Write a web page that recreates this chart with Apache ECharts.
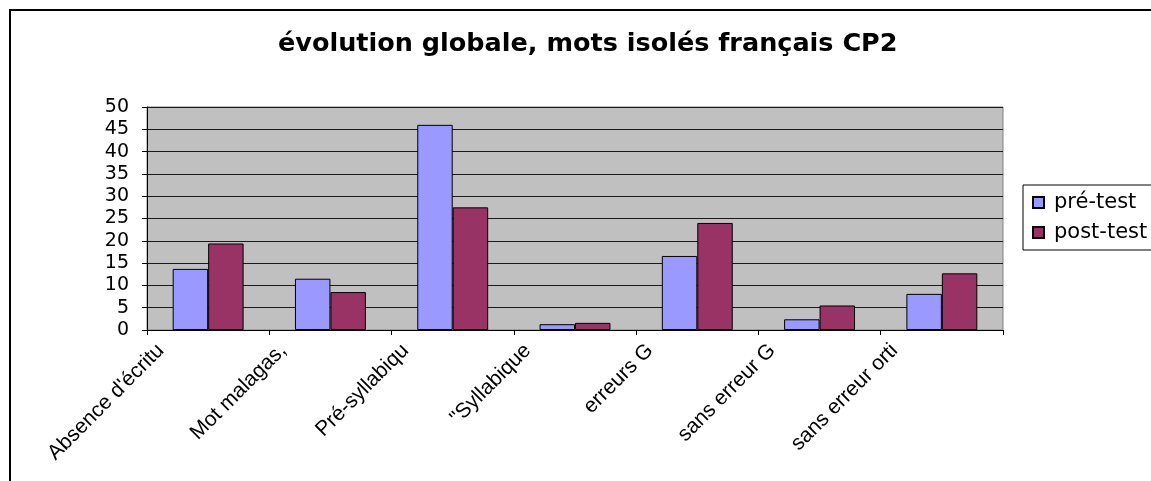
<!DOCTYPE html>
<html>
<head>
<meta charset="utf-8">
<script src="https://cdn.jsdelivr.net/npm/echarts@6/dist/echarts.min.js"></script>
<style>
html,body{margin:0;padding:0;background:#fff;}
#chart{width:1151px;height:481px;}
</style>
</head>
<body>
<div id="chart"></div>
<script>
const titleText = "évolution globale, mots isolés français CP2";
const categories = ["Absence d'écritu", "Mot malagas,", "Pré-syllabiqu", "\"Syllabique", "erreurs G", "sans erreur G", "sans erreur orti"];
const seriesNames = ["pré-test", "post-test"];
const preTest = [13.7, 11.5, 46.0, 1.3, 16.6, 2.4, 8.1];
const postTest = [19.4, 8.5, 27.5, 1.6, 24.0, 5.5, 12.7];
const yTicks = { min: 0, max: 50, interval: 5 };

const chart = echarts.init(document.getElementById('chart'), null, {renderer: 'canvas'});
const option = {
  backgroundColor: '#ffffff',
  animation: false,
  title: {
    text: titleText,
    left: 278,
    top: 31,
    padding: 0,
    textStyle: { fontFamily: 'DejaVu Sans', fontWeight: 'bold', fontSize: 25.5, color: '#000' }
  },
  graphic: [{
    type: 'rect',
    shape: { x: 10, y: 10, width: 1170, height: 520 },
    style: { fill: 'none', stroke: '#000', lineWidth: 2 },
    silent: true
  }],
  legend: {
    orient: 'vertical',
    left: 1023,
    top: 185,
    data: seriesNames,
    icon: 'rect',
    itemWidth: 11,
    itemHeight: 11,
    itemGap: 9,
    padding: [7, 10, 7, 9],
    borderColor: '#000',
    borderWidth: 1,
    textStyle: { fontFamily: 'DejaVu Sans', fontSize: 21, color: '#000', padding: [0, 0, 0, 5] }
  },
  grid: {
    left: 147, right: 148, top: 107, bottom: 151,
    show: true,
    backgroundColor: '#c0c0c0',
    borderColor: '#808080',
    borderWidth: 1,
    containLabel: false
  },
  xAxis: {
    type: 'category',
    data: categories,
    axisLine: { lineStyle: { color: '#000', width: 1 } },
    axisTick: { show: true, alignWithLabel: false, length: 5, lineStyle: { color: '#000' } },
    axisLabel: {
      rotate: 45,
      interval: 0,
      margin: -30,
      padding: [0, 67, 0, 0],
      fontFamily: 'Liberation Sans, Arial',
      fontSize: 21,
      color: '#000'
    }
  },
  yAxis: {
    type: 'value',
    min: yTicks.min,
    max: yTicks.max,
    interval: yTicks.interval,
    axisLine: { show: true, lineStyle: { color: '#000', width: 1 } },
    axisTick: { show: true, length: 5, lineStyle: { color: '#000' } },
    axisLabel: { margin: 18, fontFamily: 'DejaVu Sans', fontSize: 19, color: '#000' },
    splitLine: { show: true, lineStyle: { color: '#1a1a1a', width: 1 } }
  },
  series: [
    {
      name: seriesNames[0], type: 'bar', data: preTest,
      barGap: '0%', barCategoryGap: '42%',
      itemStyle: { color: '#9999ff', borderColor: '#000', borderWidth: 1 }
    },
    {
      name: seriesNames[1], type: 'bar', data: postTest,
      barGap: '0%', barCategoryGap: '42%',
      itemStyle: { color: '#993366', borderColor: '#000', borderWidth: 1 }
    }
  ]
};
chart.setOption(option);
</script>
</body>
</html>
